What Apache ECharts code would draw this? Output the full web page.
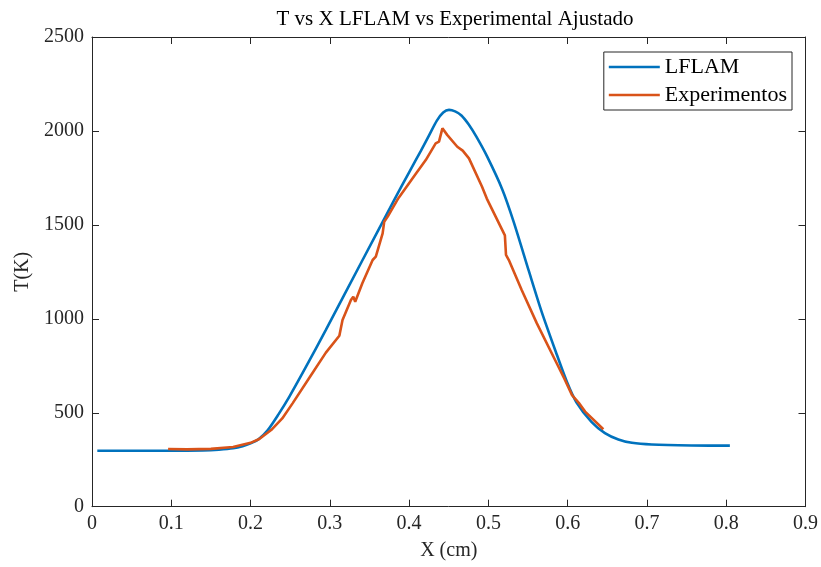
<!DOCTYPE html>
<html>
<head>
<meta charset="utf-8">
<script src="https://cdn.jsdelivr.net/npm/echarts@6/dist/echarts.min.js"></script>
<style>html,body{margin:0;padding:0;background:#fff}#c{width:821px;height:567px}</style>
</head>
<body>
<div id="c"></div>
<script>
const titleText = 'T vs X LFLAM vs Experimental Ajustado';
const xName = 'X (cm)';
const yName = 'T(K)';
const seriesNames = ['LFLAM', 'Experimentos'];

const lflamX = [0.0067,0.05,0.1,0.14,0.16,0.178,0.19,0.2,0.21,0.2218,0.235,0.249,0.27,0.295,0.3413,0.3811,0.40,0.415,0.425,0.435,0.443,0.4503,0.458,0.466,0.475,0.485,0.4985,0.5174,0.532,0.551,0.567,0.585,0.599,0.611,0.630,0.647,0.664,0.681,0.706,0.756,0.8046];
const lflamT = [298,298,298,300,304,311,322,337,359,408,490,586,745,941,1313,1632,1780,1895,1975,2055,2098,2112,2104,2082,2035,1968,1863,1690,1515,1255,1040,825,665,556,452,392,358,340,331,326,325];

const expX = [0.096,0.12,0.15,0.178,0.2,0.211,0.226,0.24,0.253,0.275,0.295,0.312,0.316,0.3266,0.3296,0.332,0.341,0.354,0.358,0.3666,0.3686,0.373,0.385,0.3876,0.4087,0.421,0.4335,0.4377,0.442,0.448,0.4608,0.4676,0.4755,0.492,0.498,0.5208,0.5222,0.5258,0.542,0.561,0.586,0.596,0.6055,0.614,0.622,0.645];
const expT = [307,305,308,318,340,360,408,470,550,692,820,910,994,1100,1118,1091,1189,1313,1331,1455,1517,1544,1632,1649,1773,1845,1934,1943,2014,1979,1916,1895,1854,1703,1640,1444,1340,1313,1153,977,765,680,594,553,506,412];

const xTicks = [0,0.1,0.2,0.3,0.4,0.5,0.6,0.7,0.8,0.9];
const yTicks = [0,500,1000,1500,2000,2500];

const FONT = 'Liberation Serif';
const TXT = '#262626';

const chart = echarts.init(document.getElementById('c'));
const axisCommon = () => ({
  axisLine: {show: true, onZero: false, lineStyle: {color: TXT, width: 1}},
  axisTick: {show: true, inside: true, length: 7, lineStyle: {color: TXT}},
  splitLine: {show: false}
});
chart.setOption({
  animation: false,
  backgroundColor: '#fff',
  title: {
    text: titleText, left: 450, top: 4, textAlign: 'center',
    textStyle: {fontFamily: FONT, fontSize: 21, fontWeight: 'normal', color: '#000'}
  },
  legend: {
    data: seriesNames.map(n => ({name: n, icon: 'rect'})), orient: 'vertical', right: 29, top: 52,
    itemWidth: 51, itemHeight: 2.5, itemGap: 6,
    borderColor: TXT, borderWidth: 1, borderRadius: 0, padding: [4, 5, 4, 5],
    textStyle: {fontFamily: FONT, fontSize: 22, color: '#000'},
    backgroundColor: '#fff'
  },
  grid: {left: 92, right: 13.5, top: 37, bottom: 60.3, containLabel: false},
  xAxis: [
    Object.assign({
      type: 'value', min: xTicks[0], max: xTicks[xTicks.length-1], interval: 0.1,
      name: xName, nameLocation: 'middle', nameGap: 34,
      nameTextStyle: {fontFamily: FONT, fontSize: 20, color: TXT},
      axisLabel: {fontFamily: FONT, fontSize: 20, color: TXT, margin: 7,
        formatter: v => String(+v.toFixed(1))}
    }, axisCommon()),
    Object.assign({
      type: 'value', position: 'top', min: xTicks[0], max: xTicks[xTicks.length-1], interval: 0.1,
      axisLabel: {show: false}
    }, axisCommon())
  ],
  yAxis: [
    Object.assign({
      type: 'value', min: yTicks[0], max: yTicks[yTicks.length-1], interval: 500,
      name: yName, nameLocation: 'middle', nameGap: 49,
      nameTextStyle: {fontFamily: FONT, fontSize: 20, color: TXT},
      axisLabel: {fontFamily: FONT, fontSize: 20, color: TXT, margin: 8, formatter: v => String(v)}
    }, axisCommon()),
    Object.assign({
      type: 'value', position: 'right', min: yTicks[0], max: yTicks[yTicks.length-1], interval: 500,
      axisLabel: {show: false}
    }, axisCommon())
  ],
  series: [
    {
      name: seriesNames[0], type: 'line', xAxisIndex: 0, yAxisIndex: 0,
      data: lflamX.map((x, i) => [x, lflamT[i]]),
      showSymbol: false, symbol: 'none', smooth: 0.25,
      lineStyle: {color: '#0072BD', width: 2.6}, itemStyle: {color: '#0072BD'}
    },
    {
      name: seriesNames[1], type: 'line', xAxisIndex: 0, yAxisIndex: 0,
      data: expX.map((x, i) => [x, expT[i]]),
      showSymbol: false, symbol: 'none',
      lineStyle: {color: '#D95319', width: 2.6}, itemStyle: {color: '#D95319'}
    }
  ]
});
</script>
</body>
</html>
